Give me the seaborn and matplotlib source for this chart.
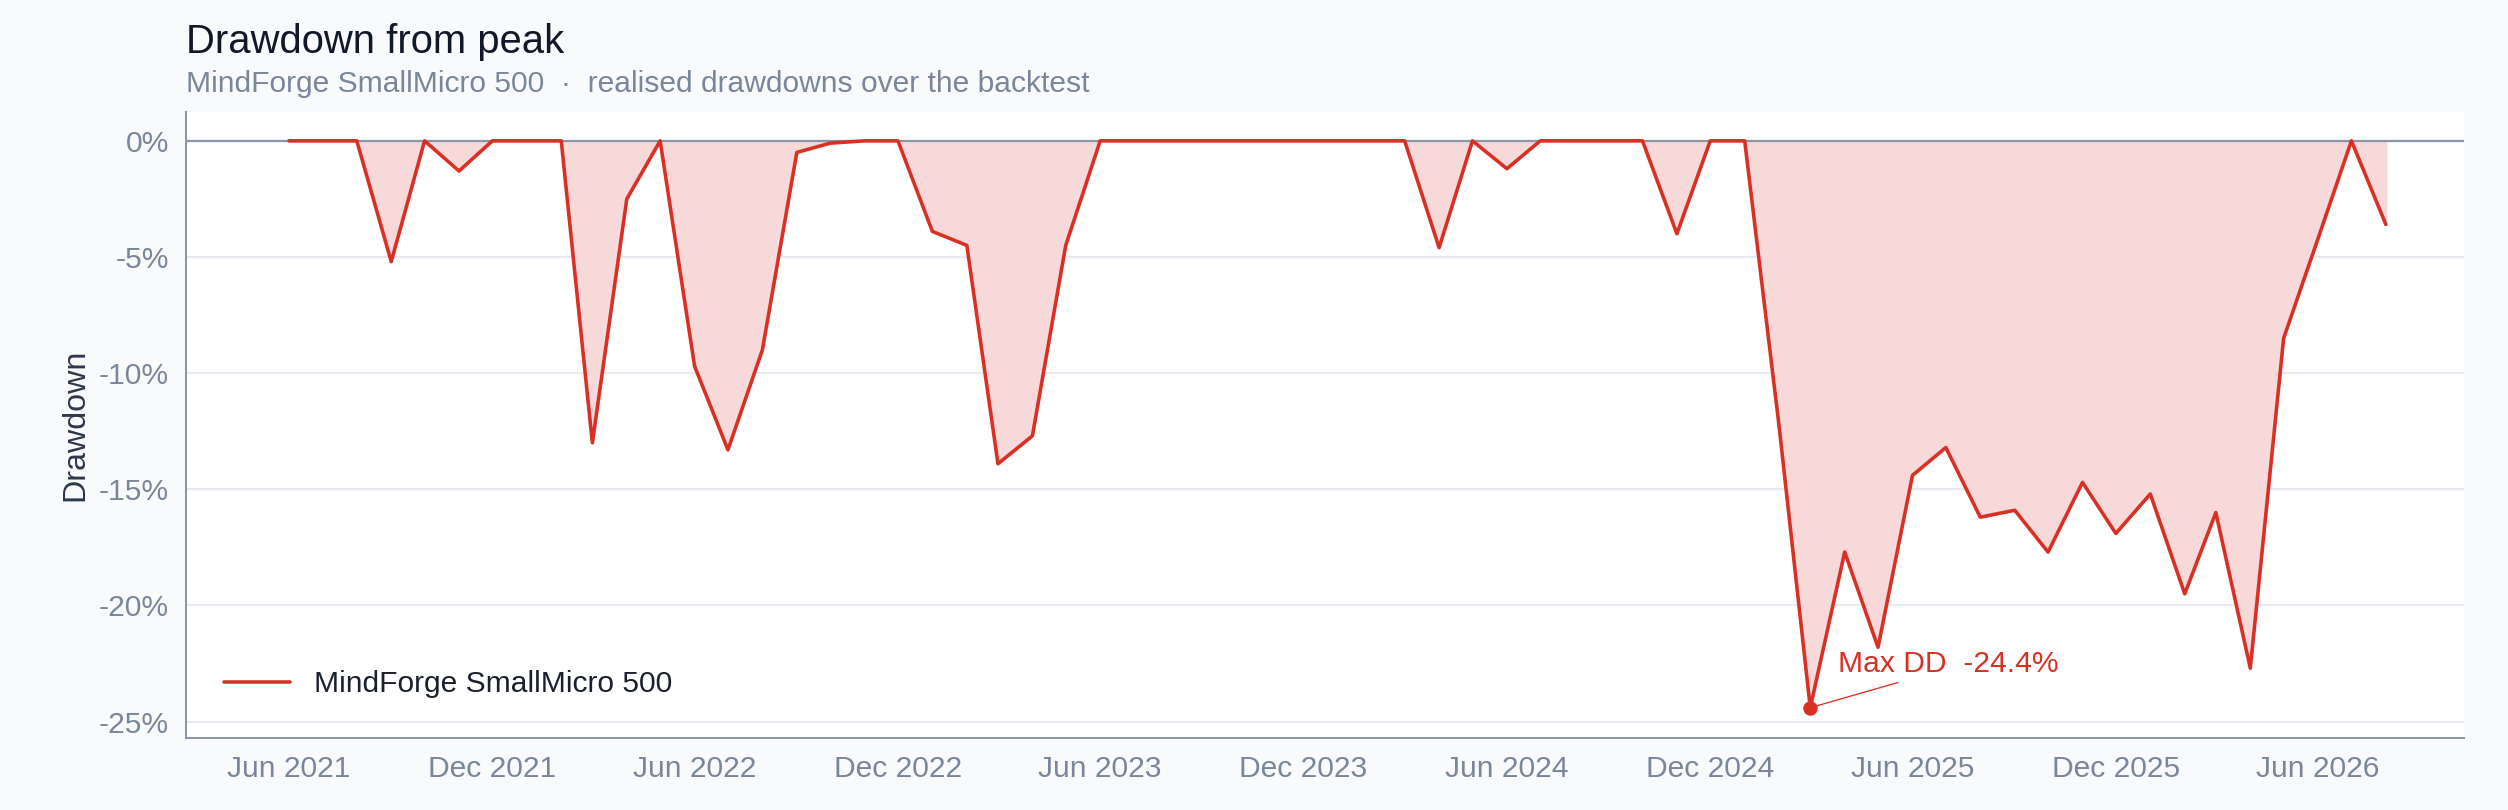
import pandas as pd
import numpy as np
import matplotlib.pyplot as plt
import matplotlib.dates as mdates
import seaborn as sns

# ── Datos (mensual desde jun 2021) ──
start_month = "2021-06-01"
drawdown_pct = [
    0, 0, 0, -5.2, 0, -1.3, 0, 0, 0, -13.0, -2.5, 0,
    -9.7, -13.3, -9.0, -0.5, -0.1, 0, 0, -3.9, -4.5, -13.9, -12.7, -4.5,
    0, 0, 0, 0, 0, 0, 0, 0, 0, 0, -4.6, 0,
    -1.2, 0, 0, 0, 0, -4.0, 0, 0, -12.3, -24.4, -17.7, -21.8,
    -14.4, -13.2, -16.2, -15.9, -17.7, -14.7, -16.9, -15.2, -19.5, -16.0, -22.7, -8.5,
    -4.2, 0, -3.6,
]
series_name = "MindForge SmallMicro 500"

df = pd.DataFrame({
    "date": pd.date_range(start_month, periods=len(drawdown_pct), freq="MS"),
    "dd": drawdown_pct,
})

RED = "#d93025"
BG = "#f9fafc"
GREY = "#7a869a"

sns.set_theme(style="white")
plt.rcParams["font.family"] = ["Liberation Sans", "DejaVu Sans"]

fig = plt.figure(figsize=(15.68, 5.0625), dpi=160, facecolor=BG)
ax = fig.add_axes([0.074, 0.089, 0.908, 0.773])
ax.set_facecolor("white")

ax.fill_between(df["date"], df["dd"], 0, color="#f7d9d9", zorder=1)
sns.lineplot(data=df, x="date", y="dd", color=RED, linewidth=1.6, ax=ax,
             label=series_name, zorder=3)
ax.axhline(0, color="#8a95a5", linewidth=1.0, zorder=2)

# punto de máxima caída
imin = df["dd"].idxmin()
xm, ym = df.loc[imin, "date"], df.loc[imin, "dd"]
ax.scatter([xm], [ym], color=RED, s=30, zorder=4)
ax.annotate(f"Max DD  {ym:.1f}%", xy=(xm, ym), xytext=(xm + pd.Timedelta(days=25), -22.5),
            color=RED, fontsize=13.5, ha="left", va="center",
            arrowprops=dict(arrowstyle="-", color=RED, lw=0.6, shrinkA=0, shrinkB=2,
                            relpos=(0.35, 0)))

ax.set_xlim(pd.Timestamp("2021-02-28"), pd.Timestamp("2026-10-10"))
ax.set_ylim(-25.7, 1.25)
ax.set_yticks([0, -5, -10, -15, -20, -25])
ax.set_yticklabels([f"{v}%" for v in [0, -5, -10, -15, -20, -25]])
ax.xaxis.set_major_locator(mdates.MonthLocator(bymonth=[6, 12]))
ax.xaxis.set_major_formatter(mdates.DateFormatter("%b %Y"))

ax.grid(axis="y", color="#e6e9f0", linewidth=0.9, zorder=0)
ax.tick_params(axis="both", colors=GREY, labelsize=13.5, length=4, labelcolor=GREY)
for s in ["top", "right"]:
    ax.spines[s].set_visible(False)
for s in ["left", "bottom"]:
    ax.spines[s].set_color("#8a95a5")
    ax.spines[s].set_linewidth(0.9)

ax.set_xlabel("")
ax.set_ylabel("Drawdown", fontsize=14.5, color="#2d3748")

leg = ax.legend(loc="lower left", frameon=False, fontsize=13.5, handlelength=2.2,
                bbox_to_anchor=(0.005, 0.02))
for t in leg.get_texts():
    t.set_color("#1a202c")

fig.text(0.074, 0.935, "Drawdown from peak", fontsize=18, color="#111827", ha="left")
fig.text(0.074, 0.887, "MindForge SmallMicro 500  ·  realised drawdowns over the backtest",
         fontsize=13.5, color=GREY, ha="left")

fig.savefig("out.png", dpi=160, facecolor=BG)
